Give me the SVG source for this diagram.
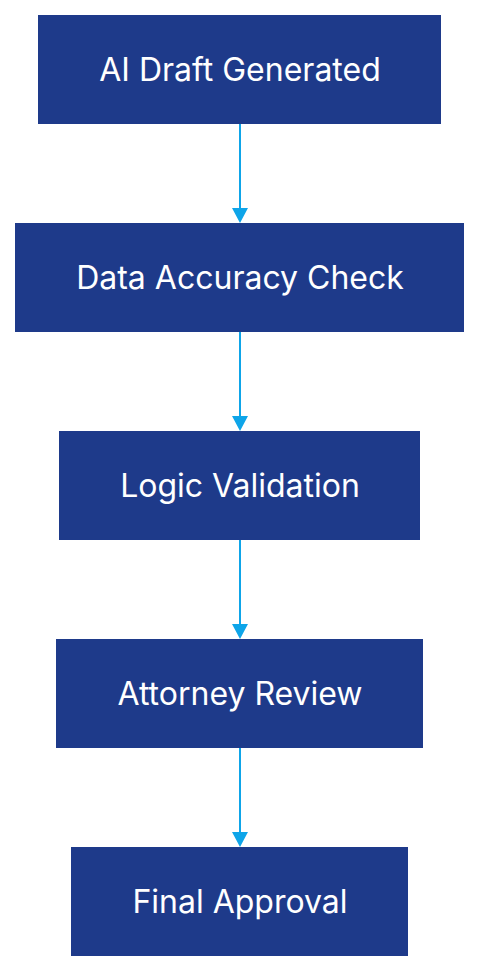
<svg xmlns="http://www.w3.org/2000/svg" width="480" height="972" viewBox="0 0 480 972">
<defs>
<style>
.box{fill:#1e3a8a;}
.lbl{fill:#ffffff;font-family:Inter,"Noto Sans",sans-serif;font-size:32px;font-weight:400;text-anchor:middle;}
.edge{stroke:#0ea5e9;stroke-width:2;fill:none;}
</style>
</defs>
<rect width="480" height="972" fill="#ffffff"/>
<g id="connectors">
<line class="edge" x1="240" y1="124" x2="240" y2="210"/>
<path d="M232,208 L248,208 L240,223 Z" fill="#0ea5e9"/>
<line class="edge" x1="240" y1="332" x2="240" y2="418"/>
<path d="M232,416 L248,416 L240,431 Z" fill="#0ea5e9"/>
<line class="edge" x1="240" y1="540" x2="240" y2="626"/>
<path d="M232,624 L248,624 L240,639 Z" fill="#0ea5e9"/>
<line class="edge" x1="240" y1="748" x2="240" y2="834"/>
<path d="M232,832 L248,832 L240,847 Z" fill="#0ea5e9"/>
</g>
<g id="n1"><rect class="box" x="38" y="15" width="403" height="109"/><text class="lbl" x="240" y="81">AI Draft Generated</text></g>
<g id="n2"><rect class="box" x="15" y="223" width="449" height="109"/><text class="lbl" x="240" y="289">Data Accuracy Check</text></g>
<g id="n3"><rect class="box" x="59" y="431" width="361" height="109"/><text class="lbl" x="240" y="497">Logic Validation</text></g>
<g id="n4"><rect class="box" x="56" y="639" width="367" height="109"/><text class="lbl" x="240" y="705">Attorney Review</text></g>
<g id="n5"><rect class="box" x="71" y="847" width="337" height="109"/><text class="lbl" x="240" y="913">Final Approval</text></g>
</svg>
